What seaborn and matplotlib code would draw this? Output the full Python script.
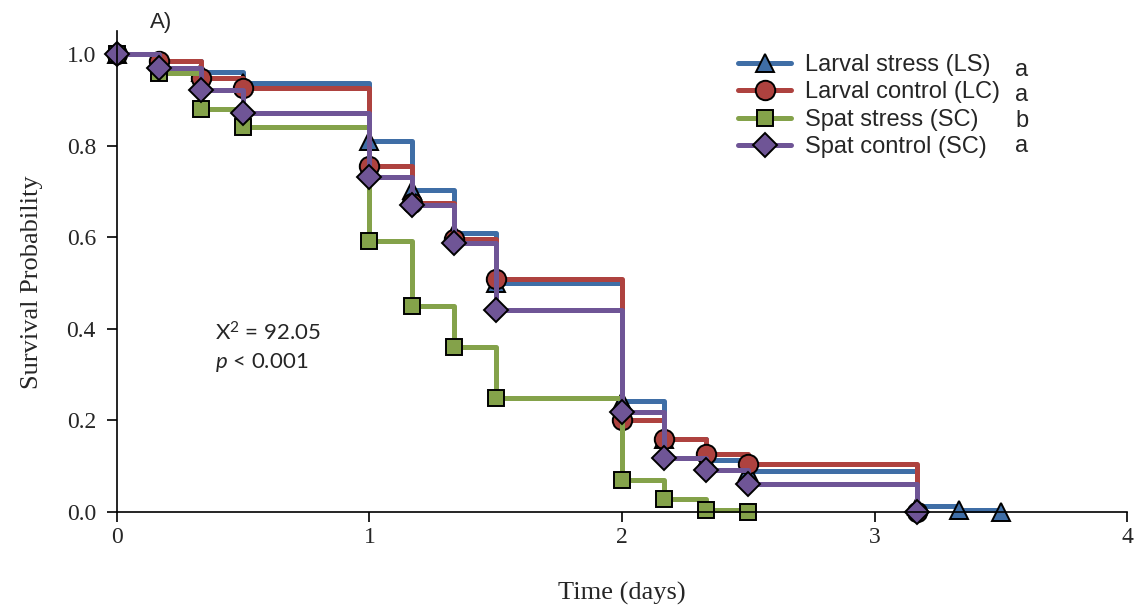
import numpy as np
import pandas as pd
import matplotlib
matplotlib.use('Agg')
import matplotlib.pyplot as plt
import seaborn as sns

# sampling times (hours) and Kaplan-Meier survival for each group
hours_ls = [0, 4, 8, 12, 24, 28, 32, 36, 48, 52, 56, 60, 76, 80, 84]
surv_ls = [1.0, 0.985, 0.96, 0.936, 0.811, 0.703, 0.61, 0.501, 0.243, 0.159, 0.113, 0.09, 0.013, 0.005, 0.0]

hours_lc = [0, 4, 8, 12, 24, 28, 32, 36, 48, 52, 56, 60, 76]
surv_lc = [1.0, 0.985, 0.947, 0.926, 0.755, 0.675, 0.596, 0.508, 0.20, 0.159, 0.127, 0.105, 0.0]

hours_ss = [0, 4, 8, 12, 24, 28, 32, 36, 48, 52, 56, 60]
surv_ss = [1.0, 0.958, 0.88, 0.84, 0.592, 0.45, 0.361, 0.25, 0.07, 0.028, 0.005, 0.0]

hours_sc = [0, 4, 8, 12, 24, 28, 32, 36, 48, 52, 56, 60, 76]
surv_sc = [1.0, 0.969, 0.921, 0.872, 0.731, 0.670, 0.587, 0.441, 0.219, 0.119, 0.092, 0.061, 0.0]

groups = ['Larval stress (LS)', 'Larval control (LC)', 'Spat stress (SC)', 'Spat control (SC)']
letters = ['a', 'a', 'b', 'a']

frames = []
for g, h, s in zip(groups, [hours_ls, hours_lc, hours_ss, hours_sc],
                   [surv_ls, surv_lc, surv_ss, surv_sc]):
    frames.append(pd.DataFrame({'group': g, 'days': np.array(h) / 24, 'surv': s}))
df = pd.concat(frames, ignore_index=True)

colors = ['#3F6EA6', '#AE423F', '#84A24A', '#6F5596']
markers = ['^', 'o', 's', 'D']
msizes = [13, 14, 12, 12]

sns.set_style('ticks')
plt.rcParams['font.family'] = ['Liberation Serif']
plt.rcParams['mathtext.fontset'] = 'custom'
plt.rcParams['mathtext.it'] = 'Lato:italic'
plt.rcParams['mathtext.rm'] = 'Lato'

fig = plt.figure(figsize=(11.34, 6.11), dpi=100)
ax = fig.add_axes([0.103, 0.162, 0.891, 0.787])

for g, c, m, ms in zip(groups, colors, markers, msizes):
    sub = df[df['group'] == g]
    sns.lineplot(data=sub, x='days', y='surv', ax=ax, drawstyle='steps-post',
                 color=c, marker=m, markersize=ms, markeredgecolor='black',
                 markeredgewidth=1.4, linewidth=3.6, label=g,
                 estimator=None, sort=False, clip_on=False)

ax.set_xlim(0, 4)
ax.set_ylim(0, 1.05)
ax.set_xticks([0, 1, 2, 3, 4])
ax.set_yticks(np.arange(0, 1.01, 0.2))
ax.set_yticklabels([f'{v:.1f}' for v in np.arange(0, 1.01, 0.2)])
ax.tick_params(axis='both', labelsize=17, length=7, width=1.2, color='black')
ax.tick_params(axis='x', pad=4)
ax.tick_params(axis='y', pad=8)
for sp in ['left', 'bottom']:
    ax.spines[sp].set_linewidth(1.2)
    ax.spines[sp].set_color('black')
sns.despine(ax=ax)
ax.set_xlabel('Time (days)', fontsize=19, labelpad=24)
ax.set_ylabel('Survival Probability', fontsize=19)
ax.yaxis.set_label_coords(-0.073, 0.478)

handles, labels = ax.get_legend_handles_labels()
ax.legend(handles, labels, loc='upper left', bbox_to_anchor=(738 / 1134, 1 - 54 / 611),
          bbox_transform=fig.transFigure, frameon=False,
          prop={'family': 'Liberation Sans', 'size': 17},
          handlelength=2.25, handletextpad=0.6, labelspacing=0.23,
          borderpad=0, borderaxespad=0)
for i, letter in enumerate(letters):
    fig.text(1022 / 1134, 1 - (76 + 25.3 * i) / 611, letter, family='Liberation Sans',
             fontsize=17, ha='center', va='baseline')

fig.text(150 / 1134, 1 - 28 / 611, 'A)', family='Liberation Sans', fontsize=16, va='baseline')

ax.text(0.388, 0.3755, r'X$^{2}$ = 92.05', family='Lato', fontsize=16, va='baseline')
ax.text(0.388, 0.314, r'$\mathit{p}$ < 0.001', family='Lato', fontsize=16, va='baseline')

fig.savefig('out.png', dpi=100)
